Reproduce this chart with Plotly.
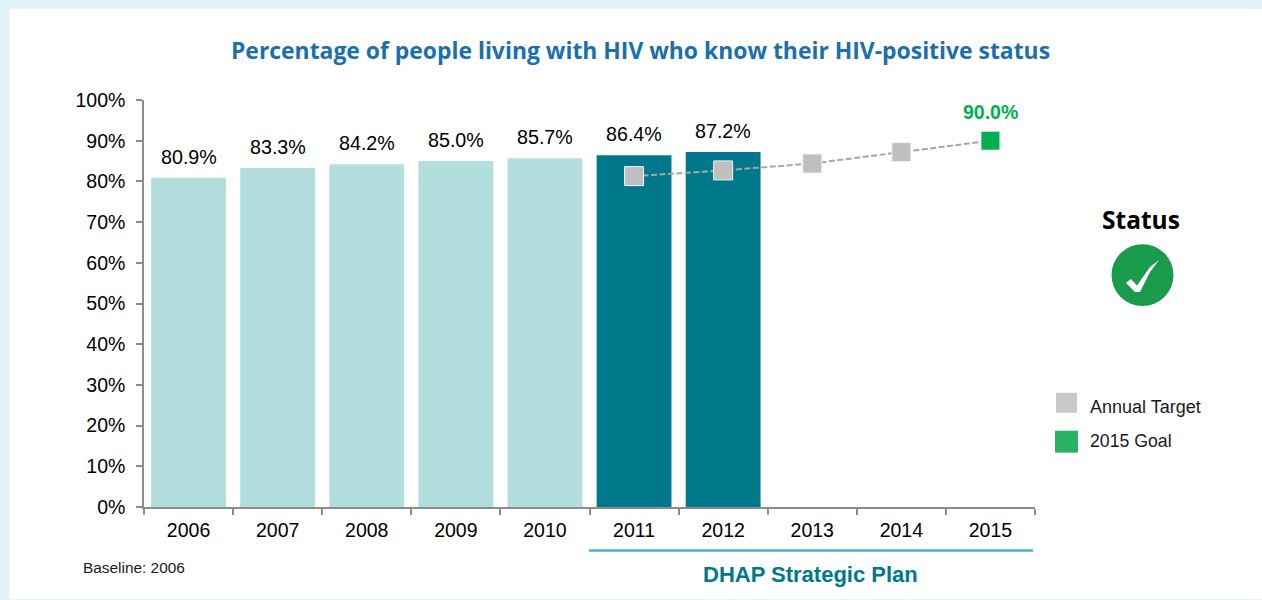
import plotly.graph_objects as go

# Data
years = ["2006", "2007", "2008", "2009", "2010", "2011", "2012", "2013", "2014", "2015"]
bar_years = ["2006", "2007", "2008", "2009", "2010", "2011", "2012"]
bar_values = [80.9, 83.3, 84.2, 85.0, 85.7, 86.4, 87.2]
bar_labels = ["80.9%", "83.3%", "84.2%", "85.0%", "85.7%", "86.4%", "87.2%"]
target_years = ["2011", "2012", "2013", "2014", "2015"]
target_values = [81.3, 82.7, 84.4, 87.2, 90.0]
y_ticks = [0, 10, 20, 30, 40, 50, 60, 70, 80, 90, 100]
y_tick_labels = ["0%", "10%", "20%", "30%", "40%", "50%", "60%", "70%", "80%", "90%", "100%"]

# Style
W, H = 1262, 600
L, R, T, B = 144, 1035, 99.5, 507.5
LIGHT, DARK = "#b2dfdd", "#00788c"
GREY_MARK, GREEN = "#bfbfbf", "#00b050"
AXIS = "#8c8c8c"
ARIAL = "Liberation Sans, Arial, sans-serif"
SEGOE = "Open Sans, Noto Sans, sans-serif"


def px(x):
    return (x - L) / (R - L)


def py(y):
    return (B - y) / (B - T)


def box(x0, y0, x1, y1, color, layer="below"):
    return dict(type="rect", xref="paper", yref="paper", x0=px(x0), x1=px(x1),
                y0=py(y0), y1=py(y1), fillcolor=color, line_width=0, layer=layer)


def text(x, y, s, size, color="#000000", family=ARIAL, anchor="center", bold=False):
    return dict(xref="paper", yref="paper", x=px(x), y=py(y), text=f"<b>{s}</b>" if bold else s,
                showarrow=False, xanchor=anchor, yanchor="middle",
                font=dict(size=size, color=color, family=family))


def path(points):
    d = "M " + " L ".join(f"{px(x):.5f},{py(y):.5f}" for x, y in points) + " Z"
    return d


fig = go.Figure()
fig.add_bar(x=bar_years, y=bar_values, width=0.84, showlegend=False,
            marker=dict(color=[LIGHT] * 5 + [DARK] * 2, line_width=0))
fig.add_scatter(x=target_years, y=target_values, mode="lines+markers", showlegend=False,
                line=dict(color="#a6a6a6", width=2, dash="6px,2.5px"),
                marker=dict(symbol="square", size=19, opacity=1,
                            color=[GREY_MARK] * 4 + [GREEN], line=dict(color="#f2f2f2", width=1)))

annotations = [
    dict(xref="x", yref="y", x=years.index(xv), y=v, text=lbl, showarrow=False, yshift=21, yanchor="middle",
         font=dict(size=19.7, color="#000000", family=ARIAL))
    for xv, v, lbl in zip(bar_years, bar_values, bar_labels)
]
annotations.append(dict(xref="x", yref="y", x=years.index(target_years[-1]), y=target_values[-1],
                        text="<b>90.0%</b>", showarrow=False, yshift=29, yanchor="middle",
                        font=dict(size=19.5, color=GREEN, family=ARIAL)))
annotations += [
    text(640, 50, "Percentage of people living with HIV who know their HIV-positive status", 22.9,
         color="#1b6fae", family=SEGOE, bold=True),
    text(1141, 219, "Status", 24.5, family=SEGOE, bold=True),
    text(1088, 407, "Annual Target", 18, anchor="left", color="#1a1a1a"),
    text(1088, 441.5, "2015 Goal", 17.7, anchor="left", color="#1a1a1a"),
    text(81, 568, "Baseline: 2006", 15.4, anchor="left", color="#1a1a1a"),
    text(810, 575, "DHAP Strategic Plan", 22, color="#00788c", bold=True),
]

check = [(1126, 283), (1131, 279), (1137, 285.5), (1150, 267), (1159, 260), (1150, 272), (1140, 292), (1135, 292)]
shapes = [
    box(9, 8, W, H, "#ffffff"),
    box(1056, 393, 1077, 413, "#c9c9cc"),
    box(1055, 431, 1078, 453, "#2bb163"),
    dict(type="line", xref="paper", yref="paper", x0=px(589), x1=px(1033), y0=py(551), y1=py(551),
         line=dict(color="#4bafc9", width=2.5)),
    dict(type="circle", xref="paper", yref="paper", x0=px(1111.5), x1=px(1173.5), y0=py(244), y1=py(306),
         fillcolor="#1a9b4b", line_width=0),
    dict(type="path", xref="paper", yref="paper", path=path(check), fillcolor="#ffffff", line_width=0),
]

fig.update_layout(
    width=W, height=H,
    margin=dict(l=L, r=W - R, t=T, b=H - B, pad=0),
    paper_bgcolor="#dff1f9", plot_bgcolor="rgba(0,0,0,0)",
    showlegend=False, annotations=annotations, shapes=shapes,
    xaxis=dict(type="category", categoryorder="array", categoryarray=years, tickmode="array", tickvals=years,
               range=[-0.5, 9.5], tickson="boundaries", ticks="outside", ticklen=6, tickwidth=1.5,
               tickcolor=AXIS, showline=True, linecolor=AXIS, linewidth=1.5, showgrid=False, zeroline=False,
               ticklabelstandoff=5, tickfont=dict(size=19.5, color="#000000", family=ARIAL)),
    yaxis=dict(range=[0, 100], tickmode="array", tickvals=y_ticks, ticktext=y_tick_labels, ticks="outside", ticklen=6,
               tickwidth=1.5, tickcolor=AXIS, showline=True, linecolor=AXIS, linewidth=1.5, showgrid=False,
               zeroline=False, ticklabelstandoff=7, tickfont=dict(size=19.5, color="#000000", family=ARIAL)),
)

fig.write_html("out.html", config=dict(displayModeBar=False),
               post_script="document.body.style.margin='0';document.body.style.overflow='hidden';")
